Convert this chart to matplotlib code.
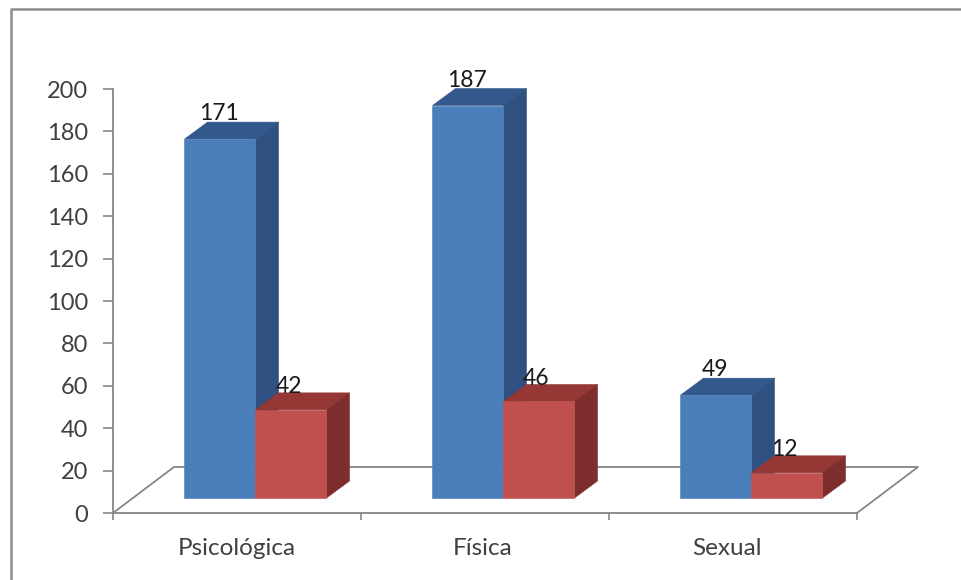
import numpy as np
import matplotlib
matplotlib.use("Agg")
import matplotlib.pyplot as plt
from matplotlib.patches import Polygon

categories = ['Psicológica', 'Física', 'Sexual']
series_a = [171, 187, 49]
series_b = [42, 46, 12]
yticks = [0, 20, 40, 60, 80, 100, 120, 140, 160, 180, 200]

W, H = 961, 580
plt.rcParams['font.family'] = ['Lato', 'DejaVu Sans']
fig = plt.figure(figsize=(W / 100, H / 100), dpi=100)

# axes box in pixels: x 113..857, y 513..89
ax = fig.add_axes([113 / W, 1 - 513 / H, (857 - 113) / W, (513 - 89) / H])
ax.set_xlim(0, 3)
ax.set_ylim(0, 200)
ax.patch.set_alpha(0)

px_x = 3 / (857 - 113)
px_y = 200 / (513 - 89)
base = 15 * px_y
dx, dy = 23 * px_x, 17 * px_y
bar_w = 71 * px_x
shrink = 0.99  # bars stand further back than the axis plane
gray = '#868686'

# floor behind the bars
floor_x, floor_y = 61 * px_x, 46 * px_y
ax.plot([0, floor_x, 3 + floor_x, 3], [0, floor_y, floor_y, 0], color=gray, lw=1.3,
        clip_on=False, zorder=1)


def bar3d(x, v, front, top, side, z):
    h = v * shrink
    y1 = base + h
    ax.bar(x, h, bar_w, bottom=base, align='edge', color=front, ec=front, lw=0.4, zorder=z + 0.2)
    ax.add_patch(Polygon([(x, y1), (x + dx, y1 + dy), (x + bar_w + dx, y1 + dy), (x + bar_w, y1)],
                         closed=True, fc=top, ec=top, lw=0.4, clip_on=False, zorder=z))
    ax.add_patch(Polygon([(x + bar_w, base), (x + bar_w + dx, base + dy), (x + bar_w + dx, y1 + dy), (x + bar_w, y1)],
                         closed=True, fc=side, ec=side, lw=0.4, clip_on=False, zorder=z))


for i in range(len(categories)):
    x0 = i + 71.5 * px_x
    bar3d(x0, series_a[i], '#4a7ebb', '#33598c', '#2f5080', 2 + i)
    bar3d(x0 + bar_w, series_b[i], '#c0504d', '#953735', '#7d2e2c', 2.5 + i)
    ax.text(x0 + 34 * px_x, base + series_a[i] * shrink + dy + 4, str(series_a[i]), ha='center', va='center',
            fontsize=16.5, color='#1a1a1a', clip_on=False, zorder=9)
    ax.text(x0 + bar_w + 33 * px_x, base + series_b[i] * shrink + dy + 3, str(series_b[i]), ha='center', va='center',
            fontsize=16.5, color='#1a1a1a', clip_on=False, zorder=9)

ax.spines['top'].set_visible(False)
ax.spines['right'].set_visible(False)
for s in ['left', 'bottom']:
    ax.spines[s].set_color(gray)
    ax.spines[s].set_linewidth(1.3)

ax.set_yticks(yticks)
ax.set_xticks([0, 1, 2, 3])
ax.set_xticklabels([])
ax.tick_params(axis='y', length=7, width=1.2, color=gray, labelcolor='#404040', labelsize=17, pad=11)
ax.tick_params(axis='x', length=5, width=1.2, color=gray)
for i, c in enumerate(categories):
    ax.annotate(c, (i + 0.5, 0), xytext=(0.2 - 2.2 * i, -25.5), textcoords='offset points', ha='center', va='center',
                fontsize=17.5, color='#404040', annotation_clip=False)

# outer frame of the picture
fig.add_artist(plt.Line2D([10.5 / W, 10.5 / W, 1], [0, 1 - 8.5 / H, 1 - 8.5 / H], color='#8c8c8c', lw=1.8))

fig.savefig('out.png', dpi=100)
